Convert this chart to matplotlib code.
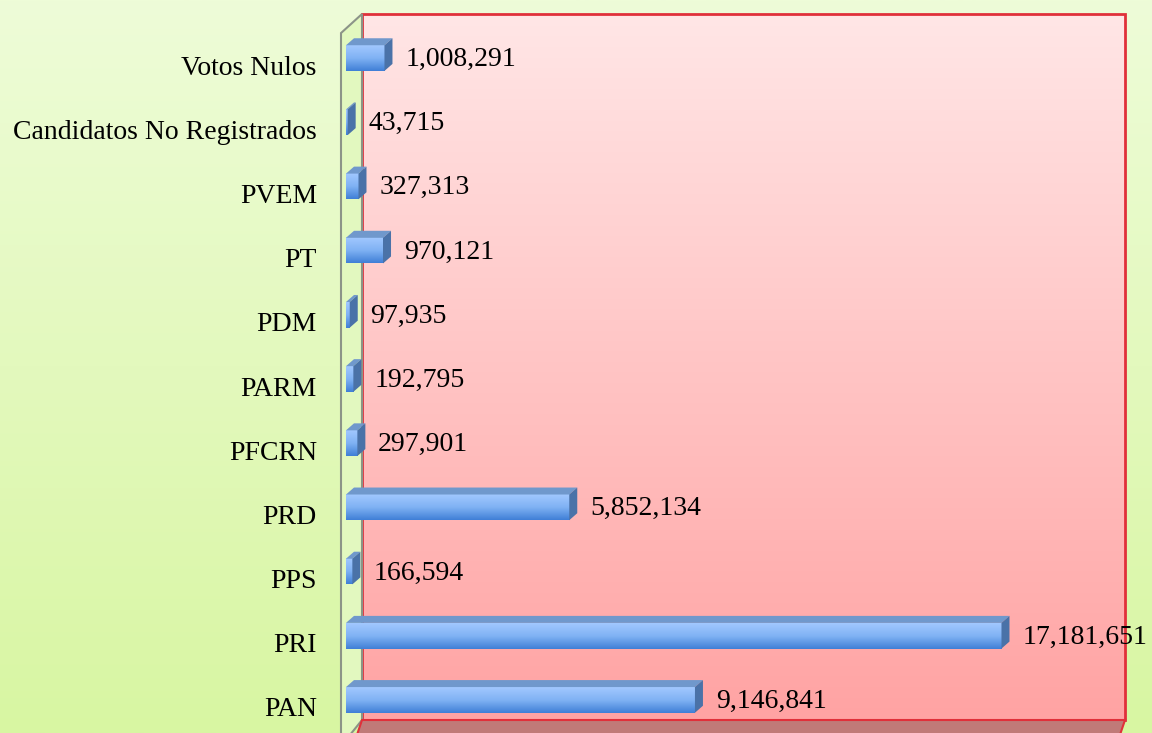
import matplotlib.pyplot as plt
import matplotlib.transforms as mtransforms
from matplotlib.patches import Polygon, Rectangle
from matplotlib.colors import LinearSegmentedColormap
import numpy as np

partidos = ["PAN", "PRI", "PPS", "PRD", "PFCRN", "PARM", "PDM", "PT", "PVEM",
            "Candidatos No Registrados", "Votos Nulos"]
votos = [9146841, 17181651, 166594, 5852134, 297901, 192795, 97935, 970121,
         327313, 43715, 1008291]

plt.rcParams['font.family'] = ['Liberation Serif', 'DejaVu Serif']

W, H = 1152, 733
fig = plt.figure(figsize=(W / 100, H / 100), dpi=100)

# page background: pale green gradient
bg = fig.add_axes([0, 0, 1, 1], zorder=0)
grad = np.linspace(0, 1, 256).reshape(-1, 1)
green = LinearSegmentedColormap.from_list("g", ["#eefcd8", "#d8f6a2"])
bg.imshow(grad, cmap=green, aspect='auto', extent=(0, 1, 0, 1))
bg.axis('off')

# plot area (front plane) in pixels
left, right, top, bottom = 346, 1109, 26, 732
ax = fig.add_axes([left / W, (H - bottom) / H, (right - left) / W, (bottom - top) / H], zorder=1)
ax.patch.set_visible(False)
xmax = 20_000_000
ax.set_xlim(0, xmax)
ax.set_ylim(-0.5, len(partidos) - 0.5)

aw, ah = right - left, bottom - top
dx, dy = 16 / aw, 12 / ah  # wall depth in axes fraction

# back wall with pink-red gradient
pink = LinearSegmentedColormap.from_list("p", ["#ffa3a3", "#ffe6e6"])
wall = ax.imshow(grad, cmap=pink, aspect='auto', origin='lower',
                 extent=(dx, 1 + dx, dy, 1 + dy), transform=ax.transAxes, zorder=0)
wall.set_clip_on(False)
ax.add_patch(Rectangle((dx, dy), 1, 1, transform=ax.transAxes, fill=False,
                       edgecolor="#e0303a", lw=2, zorder=1, clip_on=False))
# left wall
ax.add_patch(Polygon([(-5 / aw, -0.02), (dx, dy), (dx, 1 + dy), (-5 / aw, 1 - 0.01)],
                     closed=True, transform=ax.transAxes, facecolor="#e2f8bf",
                     edgecolor="#8c9488", lw=1.5, zorder=1, clip_on=False))
# floor
ax.add_patch(Polygon([(dx, dy), (1 + dx, dy), (1, -0.05), (0, -0.05)], closed=True,
                     transform=ax.transAxes, facecolor="#c07a78", edgecolor="#e0303a",
                     lw=1.5, zorder=1, clip_on=False))

# bars with 3d look
h = 0.4
bx = 8 / aw * xmax
by = 7 / ah * len(partidos)
blue = LinearSegmentedColormap.from_list("b", ["#3f7fd6", "#80b2f4", "#a2c8ff"])
for i, v in enumerate(votos):
    ax.imshow(grad, cmap=blue, aspect='auto', origin='lower',
              extent=(0, v, i - h / 2, i + h / 2), zorder=3)
    ax.add_patch(Polygon([(0, i + h / 2), (v, i + h / 2), (v + bx, i + h / 2 + by),
                          (bx, i + h / 2 + by)], closed=True, facecolor="#7098cc",
                         edgecolor="none", zorder=3))
    ax.add_patch(Polygon([(v, i - h / 2), (v + bx, i - h / 2 + by), (v + bx, i + h / 2 + by),
                          (v, i + h / 2)], closed=True, facecolor="#4a72a8",
                         edgecolor="none", zorder=3))
    ax.annotate(f"{v:,}", xy=(v, i), xytext=(15, -1), textcoords='offset points',
                va='center', ha='left', fontsize=20, zorder=4, annotation_clip=False)

ax.set_xlim(0, xmax)
ax.set_ylim(-0.5, len(partidos) - 0.5)
ax.set_xticks([])
ax.set_yticks(range(len(partidos)))
ax.set_yticklabels(partidos, fontsize=20)
ax.tick_params(axis='y', length=0, pad=21)
shift = mtransforms.ScaledTranslation(0, -7 / 100, fig.dpi_scale_trans)
for lab in ax.get_yticklabels():
    lab.set_transform(lab.get_transform() + shift)
for s in ax.spines.values():
    s.set_visible(False)

fig.savefig("out.png", dpi=100)
